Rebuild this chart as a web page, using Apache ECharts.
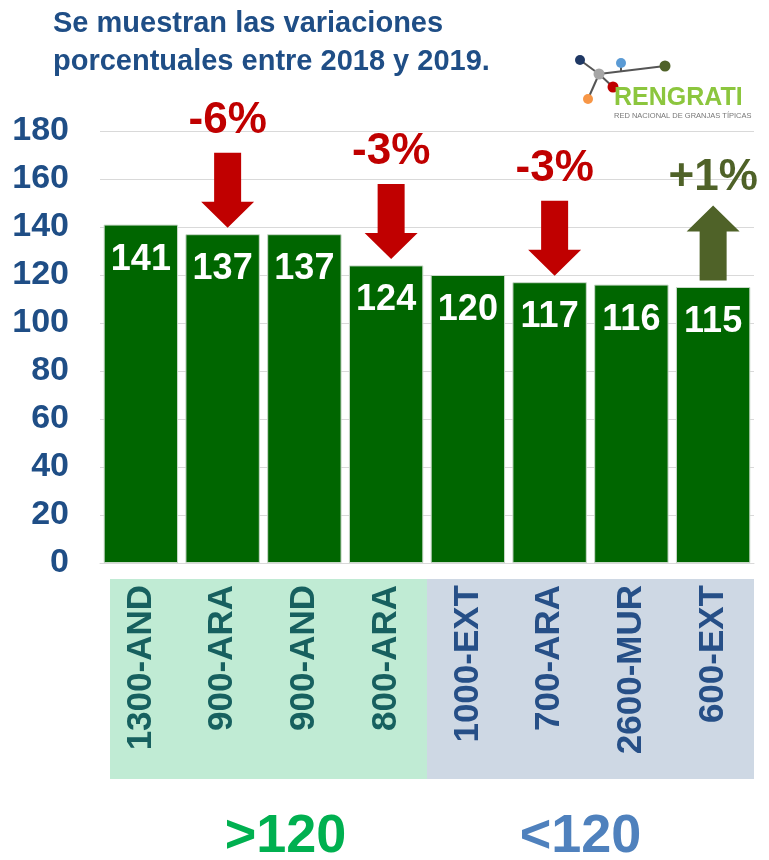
<!DOCTYPE html>
<html>
<head>
<meta charset="utf-8">
<script src="https://cdn.jsdelivr.net/npm/echarts@6/dist/echarts.min.js"></script>
<style>
  html, body { margin: 0; padding: 0; background: #fff; }
  #chart { width: 769px; height: 860px; }
</style>
</head>
<body>
<div id="chart"></div>
<script>
const categories = ['1300-AND', '900-ARA', '900-AND', '800-ARA', '1000-EXT', '700-ARA', '2600-MUR', '600-EXT'];
const values = [141, 137, 137, 124, 120, 117, 116, 115];
const yTicks = [0, 20, 40, 60, 80, 100, 120, 140, 160, 180];

// variaciones 2018-2019
const changeCats = ['900-ARA', '800-ARA', '700-ARA', '600-EXT'];
const changeLabels = ['-6%', '-3%', '-3%', '+1%'];
const changeUp = [false, false, false, true];

const groupLabels = ['>120', '<120'];

const FONT = 'Arial, "Liberation Sans", sans-serif';
const BLUE = '#1F4E86';
const RED = '#C00000';
const OLIVE = '#4F6228';

const ARROW_DOWN = 'path://M13,0L40,0L40,49L53,49L26.5,75L0,49L13,49Z';
const ARROW_UP = 'path://M26.5,0L53,26L40,26L40,75L13,75L13,26L0,26Z';

const getMarkPoints = () => {
  return changeCats.map((c, i) => {
    const v = values[categories.indexOf(c)];
    const col = changeUp[i] ? OLIVE : RED;
    return {
      name: changeLabels[i],
      coord: [c, v],
      symbol: changeUp[i] ? ARROW_UP : ARROW_DOWN,
      symbolSize: [53, 75],
      symbolOffset: [changeUp[i] ? 0 : 5, -44],
      itemStyle: { color: col },
      label: {
        show: true,
        position: 'top',
        distance: changeUp[i] ? 6 : 10,
        formatter: '{b}',
        color: col,
        fontSize: 44,
        fontWeight: 'bold',
        fontFamily: FONT
      }
    };
  });
};

const getOptionChart = () => {
  return {
    animation: false,
    grid: { left: 100, right: 15, top: 131, bottom: 297 },
    xAxis: {
      type: 'category',
      data: categories,
      axisTick: { show: false },
      axisLine: { lineStyle: { color: '#D9D9D9', width: 1 } },
      axisLabel: {
        rotate: 90,
        margin: 22,
        interval: 0,
        fontSize: 35,
        fontWeight: 'bold',
        fontFamily: FONT,
        color: (value, index) => (index < 4 ? '#17605F' : '#264F87')
      },
      z: 5
    },
    yAxis: {
      type: 'value',
      min: yTicks[0],
      max: yTicks[yTicks.length - 1],
      interval: yTicks[1] - yTicks[0],
      axisLine: { show: false },
      axisTick: { show: false },
      splitLine: { lineStyle: { color: '#D9D9D9', width: 1 } },
      axisLabel: {
        margin: 31,
        fontSize: 34,
        fontWeight: 'bold',
        fontFamily: FONT,
        color: BLUE
      }
    },
    series: [
      {
        type: 'bar',
        data: values,
        barCategoryGap: '9%',
        itemStyle: { color: '#006600', borderColor: '#C9D9C9', borderWidth: 1 },
        label: {
          show: true,
          position: 'insideTop',
          distance: 17,
          color: '#fff',
          fontSize: 36,
          fontWeight: 'bold',
          fontFamily: FONT
        },
        markPoint: {
          data: getMarkPoints()
        }
      }
    ]
  };
};

const logoGraphics = () => {
  const lineStyle = { stroke: '#555', lineWidth: 2 };
  const hub = [599, 74];
  const nodes = [
    { p: [580, 60], c: '#1F3864', r: 5 },
    { p: [665, 66], c: '#4F6228', r: 5.5 },
    { p: [613, 87], c: '#C00000', r: 5.5 },
    { p: [588, 99], c: '#F79646', r: 5 }
  ];
  const els = [];
  nodes.forEach(n => {
    els.push({ type: 'line', shape: { x1: hub[0], y1: hub[1], x2: n.p[0], y2: n.p[1] }, style: lineStyle });
  });
  els.push({ type: 'line', shape: { x1: 621, y1: 63, x2: 621, y2: 71 }, style: lineStyle });
  els.push({ type: 'circle', shape: { cx: 621, cy: 63, r: 5 }, style: { fill: '#5B9BD5' } });
  els.push({ type: 'circle', shape: { cx: hub[0], cy: hub[1], r: 5.5 }, style: { fill: '#A6A6A6' } });
  nodes.forEach(n => {
    els.push({ type: 'circle', shape: { cx: n.p[0], cy: n.p[1], r: n.r }, style: { fill: n.c } });
  });
  els.push({
    type: 'text', left: 614, top: 86,
    style: { text: 'RENGRATI', fill: '#8CC63E', font: 'bold 25px ' + FONT }
  });
  els.push({
    type: 'text', left: 614, top: 112,
    style: { text: 'RED NACIONAL DE GRANJAS TÍPICAS', fill: '#777', font: '7.5px ' + FONT }
  });
  return els;
};

const initCharts = () => {
  const chart = echarts.init(document.getElementById('chart'));
  chart.setOption(getOptionChart());

  const cx = i => chart.convertToPixel({ xAxisIndex: 0 }, categories[i]);
  const half = (cx(1) - cx(0)) / 2;
  const x0 = cx(0) - half + 10;
  const xm = cx(3) + half;
  const x1 = cx(categories.length - 1) + half;
  const boxTop = 579;
  const boxH = 200;

  chart.setOption({
    graphic: [
      { type: 'rect', z: -1, shape: { x: x0, y: boxTop, width: xm - x0, height: boxH }, style: { fill: '#C0EBD4' } },
      { type: 'rect', z: -1, shape: { x: xm, y: boxTop, width: x1 - xm, height: boxH }, style: { fill: '#CED8E4' } },
      {
        type: 'text', left: 53, top: 5,
        style: {
          text: 'Se muestran las variaciones\nporcentuales entre 2018 y 2019.',
          fill: BLUE, font: 'bold 29px ' + FONT, lineHeight: 38
        }
      },
      {
        type: 'text', x: (x0 + xm) / 2 + 17, y: 837,
        style: { text: groupLabels[0], fill: '#00B050', font: 'bold 54px ' + FONT, textAlign: 'center', textVerticalAlign: 'middle' }
      },
      {
        type: 'text', x: (xm + x1) / 2 - 10, y: 837,
        style: { text: groupLabels[1], fill: '#4F81BD', font: 'bold 54px ' + FONT, textAlign: 'center', textVerticalAlign: 'middle' }
      }
    ].concat(logoGraphics())
  });
};

window.addEventListener('load', () => {
  initCharts();
});
</script>
</body>
</html>
